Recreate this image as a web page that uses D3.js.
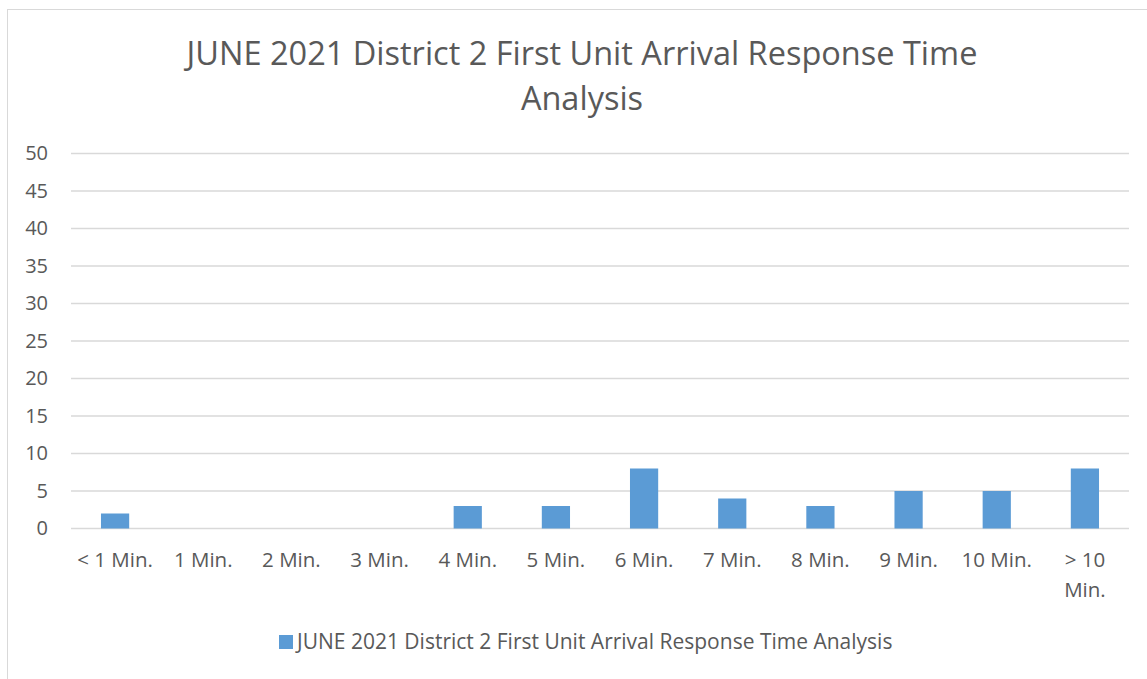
<!DOCTYPE html>
<html>
<head>
<script src="https://d3js.org/d3.v7.min.js"></script>
<style>
  body { margin: 0; background: #fff; }
  text { font-family: "Open Sans", "Noto Sans", sans-serif; fill: #595959; }
</style>
</head>
<body>
<div id="chart"></div>
<script>
// data
var categories = ["< 1 Min.", "1 Min.", "2 Min.", "3 Min.", "4 Min.", "5 Min.", "6 Min.", "7 Min.", "8 Min.", "9 Min.", "10 Min.", "> 10 Min."];
var values = [2, 0, 0, 0, 3, 3, 8, 4, 3, 5, 5, 8];
var yTicks = [0, 5, 10, 15, 20, 25, 30, 35, 40, 45, 50];
var titleLines = ["JUNE 2021 District 2 First Unit Arrival Response Time", "Analysis"];
var seriesName = "JUNE 2021 District 2 First Unit Arrival Response Time Analysis";

var width = 1147, height = 679;
var svg = d3.select('#chart').append('svg').attr('width', width).attr('height', height);

// chart area border
svg.append('rect')
  .attr('x', 7.5).attr('y', 9.5)
  .attr('width', 1150).attr('height', 680)
  .attr('fill', 'none').attr('stroke', '#d9d9d9');

var plotLeft = 71, plotRight = 1129, plotTop = 153.5, plotBottom = 528.5;

var x = d3.scaleBand().domain(categories).range([plotLeft, plotRight]).paddingInner(0.68).paddingOuter(0.34);
var y = d3.scaleLinear().domain([0, 50]).range([plotBottom, plotTop]);

// title
svg.append('g').selectAll('text')
  .data(titleLines)
  .enter().append('text')
  .attr('x', 582)
  .attr('y', function(d, i) { return 65 + i * 45; })
  .attr('text-anchor', 'middle')
  .attr('font-size', '32.5px')
  .text(function(d) { return d; });

// gridlines
svg.append('g').selectAll('line')
  .data(yTicks)
  .enter().append('line')
  .attr('x1', plotLeft).attr('x2', plotRight)
  .attr('y1', function(d) { return y(d); })
  .attr('y2', function(d) { return y(d); })
  .attr('stroke', '#d9d9d9').attr('stroke-width', 1.3);

// y axis labels
var yAxis = svg.append('g')
  .attr('transform', 'translate(' + (plotLeft - 23) + ',0)')
  .call(d3.axisLeft(y).tickValues(yTicks).tickSize(0).tickPadding(0));
yAxis.select('.domain').remove();
yAxis.selectAll('text')
  .attr('font-size', '20px')
  .attr('font-family', '"Open Sans", sans-serif')
  .attr('fill', '#595959');

// bars
svg.append('g').selectAll('rect')
  .data(values)
  .enter().append('rect')
  .attr('x', function(d, i) { return x(categories[i]); })
  .attr('y', function(d) { return y(d); })
  .attr('width', x.bandwidth())
  .attr('height', function(d) { return y(0) - y(d); })
  .attr('fill', '#5b9bd5');

// x labels (wrap "> 10 Min.")
var xl = svg.append('g').selectAll('text')
  .data(categories)
  .enter().append('text')
  .attr('text-anchor', 'middle')
  .attr('font-size', '20.5px')
  .attr('transform', function(d) { return 'translate(' + (x(d) + x.bandwidth() / 2) + ',567)'; });
xl.each(function(d) {
  var t = d3.select(this);
  if (d === "> 10 Min.") {
    t.append('tspan').attr('x', 0).attr('dy', 0).text('> 10');
    t.append('tspan').attr('x', 0).attr('dy', 30).text('Min.');
  } else {
    t.text(d);
  }
});

// legend
var legend = svg.append('g').attr('transform', 'translate(279,635)');
legend.append('rect').attr('width', 14).attr('height', 14).attr('fill', '#5b9bd5');
legend.append('text').attr('x', 18).attr('y', 14).attr('font-size', '21px').text(seriesName);
</script>
</body>
</html>
